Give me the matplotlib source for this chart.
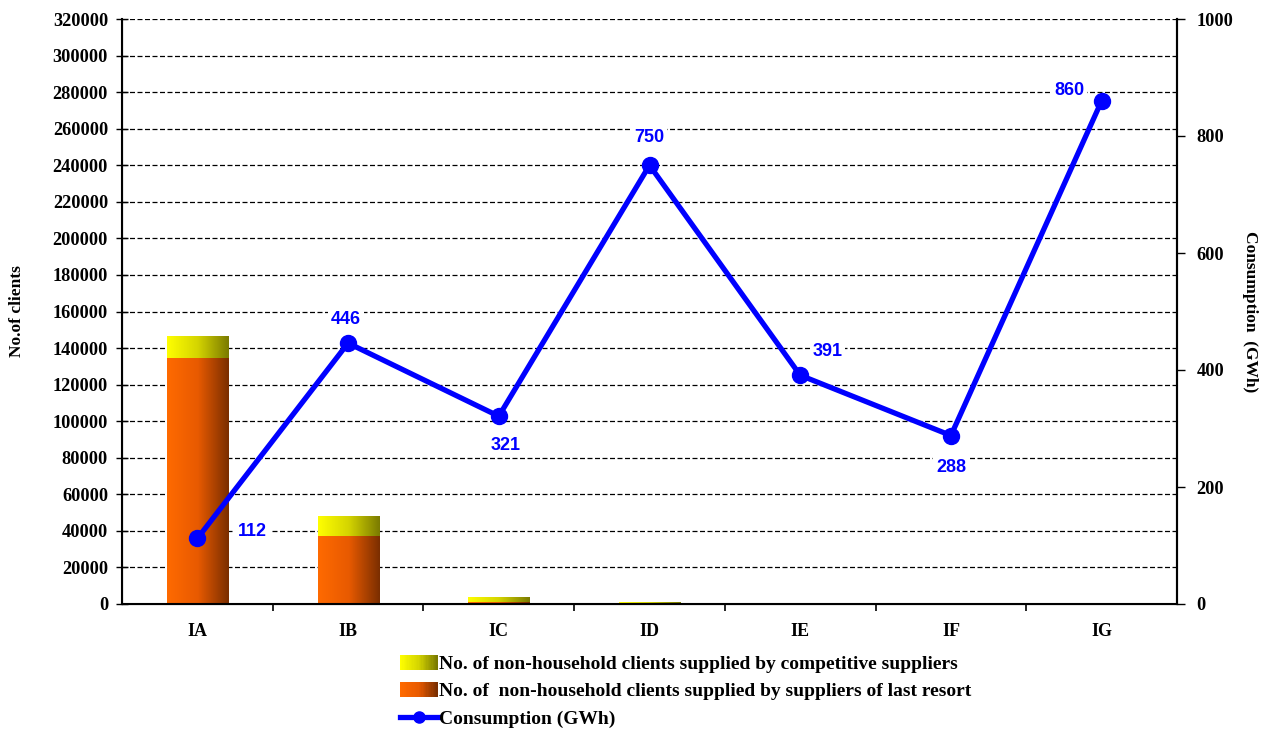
import numpy as np
import matplotlib
matplotlib.use("Agg")
import matplotlib.pyplot as plt
from matplotlib.colors import LinearSegmentedColormap
from matplotlib.legend_handler import HandlerBase
from matplotlib.patches import Rectangle
from matplotlib.lines import Line2D

categories = ["IA", "IB", "IC", "ID", "IE", "IF", "IG"]
last_resort = [134500, 37200, 1300, 300, 80, 60, 60]
competitive = [12100, 10800, 2300, 1000, 620, 640, 640]
consumption = [112, 446, 321, 750, 391, 288, 860]

label_offsets = [(55, 7), (-2, 24), (7, -29), (0, 28), (27, 24), (0, -32), (-32, 10)]

orange_cmap = LinearSegmentedColormap.from_list("orange", ["#ff6a00", "#e85a00", "#7a2e00"])
yellow_cmap = LinearSegmentedColormap.from_list("yellow", ["#ffff00", "#d4d400", "#7a7a00"])

serif = "Liberation Serif"
sans = "Liberation Sans"


def gradient_bars(ax, bars, cmap):
    grad = np.linspace(0, 1, 256).reshape(1, -1)
    for b in bars:
        x0, y0 = b.get_x(), b.get_y()
        w, h = b.get_width(), b.get_height()
        if h <= 0:
            continue
        im = ax.imshow(grad, cmap=cmap, aspect="auto", extent=(x0, x0 + w, y0, y0 + h),
                       zorder=b.get_zorder(), interpolation="bilinear")
        im.set_clip_path(b)
        b.set_facecolor("none")


class GradientHandler(HandlerBase):
    def __init__(self, cmap):
        super().__init__()
        self.cmap = cmap

    def create_artists(self, legend, orig_handle, xdescent, ydescent, width, height, fontsize, trans):
        n = 30
        arts = []
        for i in range(n):
            r = Rectangle((-xdescent + width * i / n, -ydescent), width / n + 0.3, height,
                          facecolor=self.cmap(i / (n - 1)), edgecolor="none", transform=trans)
            arts.append(r)
        return arts


fig = plt.figure(figsize=(12.7, 7.29), dpi=100)
ax = fig.add_axes([122 / 1270, 1 - 604 / 729, 1055 / 1270, 585 / 729])
x = np.arange(len(categories))

b1 = ax.bar(x, last_resort, width=0.405, color="#ff6a00", zorder=2, linewidth=0)
b2 = ax.bar(x, competitive, width=0.405, bottom=last_resort, color="#ffff00", zorder=2, linewidth=0)
ax.set_xlim(-0.5, len(categories) - 0.5)
ax.set_ylim(0, 320000)
gradient_bars(ax, b1, orange_cmap)
gradient_bars(ax, b2, yellow_cmap)

ax.set_yticks(np.arange(0, 320001, 20000))
ax.set_yticklabels([str(v) for v in range(0, 320001, 20000)], fontfamily=serif,
                   fontweight="bold", fontsize=13.2)
ax.yaxis.grid(True, linestyle=(0, (4, 2)), color="black", linewidth=0.9, zorder=0)
ax.set_axisbelow(True)
ax.tick_params(axis="y", direction="inout", length=8, width=1, pad=6)
ax.set_xticks(x)
ax.set_xticklabels(categories, fontfamily=serif, fontweight="bold", fontsize=13)
ax.set_xticks(np.arange(0.5, len(categories) - 1, 1), minor=True)
ax.tick_params(axis="x", which="major", length=0, pad=14)
ax.tick_params(axis="x", which="minor", length=5, width=1.2, direction="out")
ax.spines["top"].set_visible(False)
for s in ["left", "bottom", "right"]:
    ax.spines[s].set_linewidth(1.5)
ax.set_ylabel("No.of clients", fontfamily=serif, fontweight="bold", fontsize=12.5, va="center")
ax.yaxis.set_label_coords(-0.0995, 0.5)

ax2 = ax.twinx()
ax2.set_ylim(0, 1000)
ax2.set_yticks(np.arange(0, 1001, 200))
ax2.set_yticklabels([str(v) for v in range(0, 1001, 200)], fontfamily=serif,
                    fontweight="bold", fontsize=13.2)
ax2.tick_params(axis="y", direction="out", length=6, width=1, pad=8)
ax2.spines["top"].set_visible(False)
ax2.spines["right"].set_linewidth(1.5)
ax2.plot(x, consumption, color="#0000ff", linewidth=3.8, marker="o", markersize=11.5, zorder=5)
for xi, v, (dx, dy) in zip(x, consumption, label_offsets):
    ax2.annotate(str(v), (xi, v), xytext=(dx, dy), textcoords="offset pixels",
                 ha="center", va="center", color="#0000ff", fontfamily=sans,
                 fontweight="bold", fontsize=13,
                 bbox=dict(boxstyle="square,pad=0.15", facecolor="white", edgecolor="none"))
ax2.set_ylabel("Consumption  (GWh)", fontfamily=serif, fontweight="bold", fontsize=12.5,
               rotation=-90, va="center")
ax2.yaxis.set_label_coords(1.069, 0.5)

h1 = Rectangle((0, 0), 1, 1)
h2 = Rectangle((0, 0), 1, 1)
h3 = Line2D([], [], color="#0000ff", linewidth=3.8, marker="o", markersize=8)
leg = fig.legend([h2, h1, h3],
                 ["No. of non-household clients supplied by competitive suppliers",
                  "No. of  non-household clients supplied by suppliers of last resort",
                  "Consumption (GWh)"],
                 handler_map={h2: GradientHandler(yellow_cmap), h1: GradientHandler(orange_cmap)},
                 loc="upper left", bbox_to_anchor=(392 / 1270, 1 - 647 / 729),
                 frameon=False, handlelength=1.95, handleheight=0.8, handletextpad=0.05,
                 labelspacing=0.47,
                 prop={"family": serif, "weight": "bold", "size": 14}, borderaxespad=0)

fig.savefig("out.png", dpi=100)
